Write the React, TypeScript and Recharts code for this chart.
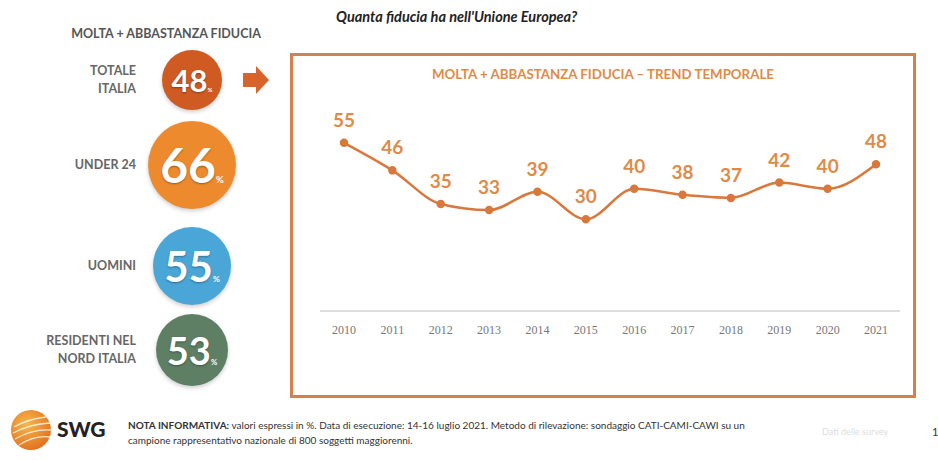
import { LineChart, Line, XAxis, YAxis, LabelList } from 'recharts';

const YEARS = ['2010', '2011', '2012', '2013', '2014', '2015', '2016', '2017', '2018', '2019', '2020', '2021'];
const TRUST = [55, 46, 35, 33, 39, 30, 40, 38, 37, 42, 40, 48];

const GROUP_LABELS = [['TOTALE', 'ITALIA'], ['UNDER 24'], ['UOMINI'], ['RESIDENTI NEL', 'NORD ITALIA']];
const GROUP_VALUES = [48, 66, 55, 53];

const FONT = 'Lato, "Open Sans", sans-serif';
const ORANGE = '#d9783c';
const LABEL_ORANGE = '#e08a47';

// circle look per group: center y, radius, fill, font size
const BUBBLES = [
  { cy: 80, r: 30, fill: '#cf5a22', fs: 31 },
  { cy: 165, r: 44, fill: '#ee8a2e', fs: 48 },
  { cy: 266, r: 39, fill: '#4aa6d6', fs: 42 },
  { cy: 350, r: 36, fill: '#5f7f64', fs: 38 },
];

const data = YEARS.map((year, i) => ({ year, value: TRUST[i] }));

function Bubble({ label, value, cy, r, fill, fs }: { label: string[]; value: number; cy: number; r: number; fill: string; fs: number }) {
  return (
    <>
      <div
        style={{
          position: 'absolute',
          right: 938 - 136,
          top: cy - (label.length * 18) / 2,
          textAlign: 'right',
          fontSize: 12.5,
          fontWeight: 700,
          color: '#666',
          lineHeight: '18px',
          whiteSpace: 'nowrap',
        }}
      >
        {label.map((l) => (
          <div key={l}>{l}</div>
        ))}
      </div>
      <div
        style={{
          position: 'absolute',
          left: 192 - r,
          top: cy - r,
          width: r * 2,
          height: r * 2,
          borderRadius: '50%',
          background: fill,
          boxShadow: '0 2px 4px rgba(0,0,0,0.2)',
          display: 'flex',
          alignItems: 'center',
          justifyContent: 'center',
          color: '#fff',
          fontWeight: 700,
          fontSize: fs,
          lineHeight: 1,
        }}
      >
        <span style={{ textShadow: '0 1px 2px rgba(0,0,0,0.35)' }}>{value}</span>
        <span style={{ fontSize: fs * 0.2, alignSelf: 'flex-end', marginBottom: r * 0.55 }}>%</span>
      </div>
    </>
  );
}

export default function App() {
  return (
    <div style={{ position: 'absolute', left: 0, top: 0, width: 938, height: 460, background: '#fff', fontFamily: FONT, overflow: 'hidden' }}>
      <div style={{ position: 'absolute', left: 336, top: 8, fontSize: 14.5, fontWeight: 700, fontStyle: 'italic', color: '#222', whiteSpace: 'nowrap' }}>
        Quanta fiducia ha nell'Unione Europea?
      </div>

      <div style={{ position: 'absolute', left: 56, width: 220, top: 26, textAlign: 'center', fontSize: 12.5, fontWeight: 700, color: '#555', whiteSpace: 'nowrap' }}>
        MOLTA + ABBASTANZA FIDUCIA
      </div>

      {GROUP_LABELS.map((label, i) => (
        <Bubble key={i} label={label} value={GROUP_VALUES[i]} {...BUBBLES[i]} />
      ))}

      <svg style={{ position: 'absolute', left: 240, top: 64 }} width={32} height={32}>
        <polygon points="3,9 16,9 16,2 29,16 16,30 16,23 3,23" fill="#d8642c" />
      </svg>

      <div style={{ position: 'absolute', left: 290, top: 53, width: 620, height: 339, border: '3px solid #d4814c' }} />

      <div style={{ position: 'absolute', left: 290, width: 626, top: 66, textAlign: 'center', fontSize: 13.3, fontWeight: 700, color: LABEL_ORANGE, whiteSpace: 'nowrap' }}>
        MOLTA + ABBASTANZA FIDUCIA – TREND TEMPORALE
      </div>

      <div style={{ position: 'absolute', left: 290, top: 53 }}>
        <LineChart width={626} height={345} data={data} margin={{ top: 44, right: 16, bottom: 57, left: 30 }}>
          <XAxis
            dataKey="year"
            padding={{ left: 24, right: 24 }}
            axisLine={{ stroke: '#dcdcdc', strokeWidth: 2 }}
            tickLine={false}
            tickMargin={8}
            height={30}
            tick={{ fontSize: 12, fill: '#777', fontFamily: 'Liberation Serif, serif' }}
          />
          <YAxis hide domain={[0, 70]} />
          <Line
            type="monotone"
            dataKey="value"
            stroke={ORANGE}
            strokeWidth={2.5}
            dot={{ r: 3, fill: ORANGE, stroke: ORANGE }}
            isAnimationActive={false}
          >
            <LabelList dataKey="value" position="top" offset={16} fill={LABEL_ORANGE} fontSize={19} fontWeight={700} fontFamily={FONT} />
          </Line>
        </LineChart>
      </div>

      <svg style={{ position: 'absolute', left: 8, top: 407 }} width={46} height={46}>
        <defs>
          <radialGradient id="swg" cx="40%" cy="35%" r="70%">
            <stop offset="0%" stopColor="#f8b64c" />
            <stop offset="100%" stopColor="#e0701e" />
          </radialGradient>
        </defs>
        <circle cx={23} cy={23} r={20} fill="url(#swg)" />
        <path d="M6 20 Q20 12 38 10" stroke="#fff" strokeWidth={1.3} fill="none" opacity={0.8} />
        <path d="M5 26 Q22 17 42 16" stroke="#fff" strokeWidth={1.3} fill="none" opacity={0.8} />
        <path d="M7 32 Q24 22 43 23" stroke="#fff" strokeWidth={1.3} fill="none" opacity={0.8} />
        <path d="M11 38 Q27 28 42 30" stroke="#fff" strokeWidth={1.3} fill="none" opacity={0.8} />
      </svg>
      <div style={{ position: 'absolute', left: 57, top: 416, fontSize: 21, fontWeight: 900, color: '#222' }}>SWG</div>

      <div style={{ position: 'absolute', left: 128, top: 418, fontSize: 10, color: '#333', lineHeight: '15px', whiteSpace: 'nowrap' }}>
        <div>
          <b>NOTA INFORMATIVA:</b> valori espressi in %. Data di esecuzione: 14-16 luglio 2021. Metodo di rilevazione: sondaggio CATI-CAMI-CAWI su un
        </div>
        <div>campione rappresentativo nazionale di 800 soggetti maggiorenni.</div>
      </div>

      <div style={{ position: 'absolute', left: 822, top: 426, fontSize: 9, color: '#ddd' }}>Dati delle survey</div>
      <div style={{ position: 'absolute', left: 932, top: 425, fontSize: 11, color: '#333' }}>1</div>
    </div>
  );
}
